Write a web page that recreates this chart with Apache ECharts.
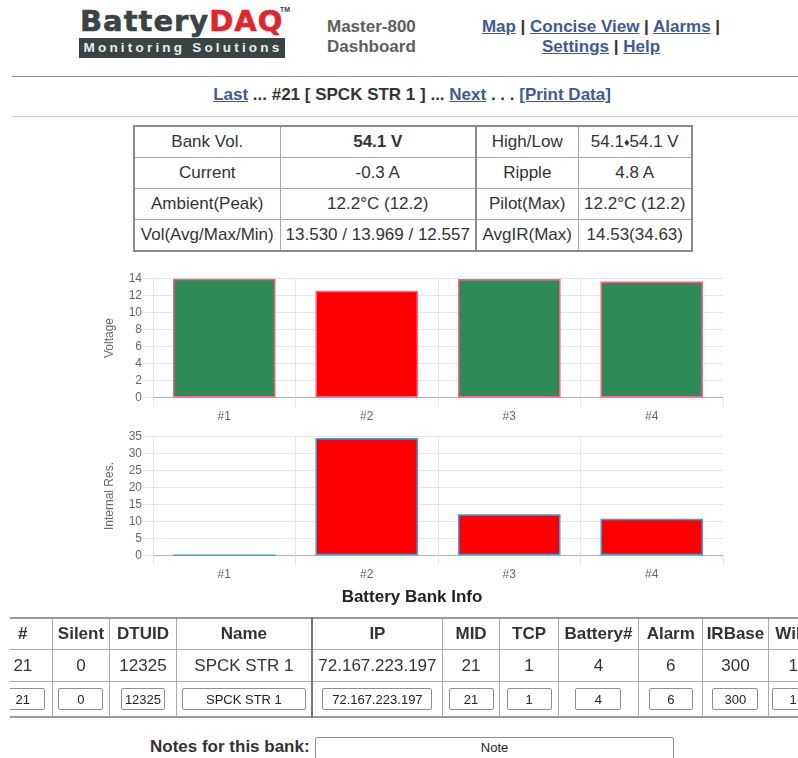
<!DOCTYPE html>
<html><head><meta charset="utf-8">
<script src="https://cdn.jsdelivr.net/npm/echarts@6/dist/echarts.min.js"></script>
<style>
html,body{margin:0;padding:0;background:#fff;}
body{width:798px;height:758px;overflow:hidden;position:relative;font-family:"Liberation Sans",Arial,sans-serif;color:#333;}
.abs{position:absolute;}
a{color:#3d5a98;text-decoration:underline;}
#logo1{left:80px;top:3px;font-family:"DejaVu Sans",sans-serif;font-weight:bold;font-size:29px;letter-spacing:1px;line-height:36px;white-space:nowrap;-webkit-text-stroke:0.6px;}
#logo1 .b{color:#3a4443;}
#logo1 .d{color:#e5232a;}
#tm{left:280px;top:6px;font-size:7px;font-weight:bold;color:#3a4443;}
#logo2{left:79px;top:38px;width:206px;height:20px;background:#3a4443;color:#eceeee;font-weight:bold;font-size:13.5px;line-height:20px;text-align:center;letter-spacing:3.2px;white-space:nowrap;text-indent:2px;}
#master{left:327px;top:17px;font-size:17px;font-weight:bold;color:#5e5e5e;line-height:20px;}
#links{left:451px;top:17px;width:300px;text-align:center;font-size:17px;font-weight:bold;line-height:20px;color:#333;}
.rule{left:12px;width:786px;height:0;}
#nav{left:0;width:824px;top:85px;text-align:center;font-size:17px;font-weight:bold;line-height:20px;color:#333;}
#summary{left:133px;top:125px;border-collapse:collapse;table-layout:fixed;width:558px;border:2px solid #8a8a8a;font-size:17px;}
#summary td{border:1px solid #a8a8a8;text-align:center;height:30px;padding:0;white-space:nowrap;color:#333;}
#summary td.sep{border-left:2px solid #8a8a8a;}
#chart{left:0;top:260px;width:798px;height:330px;}
#title{left:0;width:824px;top:587px;text-align:center;font-size:17px;font-weight:bold;color:#222;line-height:20px;}
#wrap{left:10px;top:617px;width:788px;height:104px;overflow:hidden;}
#info{position:absolute;left:-17px;top:0;border-collapse:collapse;table-layout:fixed;width:825px;font-size:17px;border-top:2px solid #999;border-bottom:2px solid #999;}
#info td,#info th{border:1px solid #aaa;text-align:center;padding:0;white-space:nowrap;color:#333;overflow:hidden;}
#info th{height:30px;font-weight:bold;}
#info tr.d td{height:31px;}
#info tr.i td{height:34px;}
#info .sep{border-left:2px solid #777;}
#info input,#notebox{font-family:"Liberation Sans",Arial,sans-serif;font-size:13px;color:#222;text-align:center;border:1px solid #8f8f8f;border-radius:2px;height:22px;padding:0;box-sizing:border-box;background:#fff;}
#notelabel{left:150px;top:737px;font-size:17px;font-weight:bold;color:#333;line-height:20px;}
#notebox{position:absolute;left:315px;top:737px;width:359px;height:24px;padding-bottom:4px;}
</style>
</head><body>
<div id="logo1" class="abs"><span class="b">Battery</span><span class="d">DAQ</span></div>
<div id="tm" class="abs">TM</div>
<div id="logo2" class="abs">Monitoring Solutions</div>
<div id="master" class="abs">Master-800<br>Dashboard</div>
<div id="links" class="abs"><a>Map</a> | <a>Concise View</a> | <a>Alarms</a> |<br><a>Settings</a> | <a>Help</a></div>
<div class="abs rule" style="top:76px;border-top:1px solid #8c8c8c;"></div>
<div id="nav" class="abs"><a>Last</a> ... #21 [ SPCK STR 1 ] ... <a>Next</a> . . . <a>[Print Data]</a></div>
<div class="abs rule" style="top:116px;border-top:1px solid #c8c8c8;"></div>

<table id="summary" class="abs">
<colgroup><col style="width:146px"><col style="width:196px"><col style="width:102px"><col style="width:114px"></colgroup>
<tr><td>Bank Vol.</td><td><b>54.1 V</b></td><td class="sep">High/Low</td><td>54.1<span style="font-size:11px;vertical-align:1px">♦</span>54.1 V</td></tr>
<tr><td>Current</td><td>-0.3 A</td><td class="sep">Ripple</td><td>4.8 A</td></tr>
<tr><td>Ambient(Peak)</td><td>12.2°C (12.2)</td><td class="sep">Pilot(Max)</td><td>12.2°C (12.2)</td></tr>
<tr><td>Vol(Avg/Max/Min)</td><td>13.530 / 13.969 / 12.557</td><td class="sep">AvgIR(Max)</td><td>14.53(34.63)</td></tr>
</table>

<div id="chart" class="abs"></div>
<div id="title" class="abs">Battery Bank Info</div>

<div id="wrap" class="abs">
<table id="info">
<colgroup><col style="width:58.7px"><col style="width:57.6px"><col style="width:66.4px"><col style="width:136px"><col style="width:130px"><col style="width:57.8px"><col style="width:58.2px"><col style="width:80.6px"><col style="width:64px"><col style="width:65.4px"><col style="width:50px"></colgroup>
<tr><th>#</th><th>Silent</th><th>DTUID</th><th>Name</th><th class="sep">IP</th><th>MID</th><th>TCP</th><th>Battery#</th><th>Alarm</th><th>IRBase</th><th>WiFi</th></tr>
<tr class="d"><td>21</td><td>0</td><td>12325</td><td>SPCK STR 1</td><td class="sep">72.167.223.197</td><td>21</td><td>1</td><td>4</td><td>6</td><td>300</td><td>1</td></tr>
<tr class="i"><td><input style="width:45px" value="21"></td><td><input style="width:45px" value="0"></td><td><input style="width:44px" value="12325"></td><td><input style="width:124px" value="SPCK STR 1"></td><td class="sep"><input style="width:110px" value="72.167.223.197"></td><td><input style="width:45px" value="21"></td><td><input style="width:45px" value="1"></td><td><input style="width:46px" value="4"></td><td><input style="width:44px" value="6"></td><td><input style="width:46px" value="300"></td><td><input style="width:42px" value="1"></td></tr>
</table>
</div>

<div id="notelabel" class="abs">Notes for this bank:</div>
<input id="notebox" value="Note">

<script>
const categories = ['#1', '#2', '#3', '#4'];
const voltage = [13.969, 12.557, 13.95, 13.644];
const voltageAlarm = [false, true, false, false];
const internalRes = [0, 34.63, 12.1, 10.8];
const voltageTicks = [0, 2, 4, 6, 8, 10, 12, 14];
const irTicks = [0, 5, 10, 15, 20, 25, 30, 35];

const FONT = '"Liberation Sans", Arial, sans-serif';
const GRID = '#e6e6e6';
const GREEN = '#2e8b57';
const RED = '#ff0000';

function xAxisFor(i) {
  return {
    type: 'category', gridIndex: i, data: categories, boundaryGap: true,
    axisLine: { show: true, lineStyle: { color: '#b0b0b0', width: 1 } },
    axisTick: { show: true, length: 10, lineStyle: { color: GRID } },
    axisLabel: { color: '#666', fontSize: 12, fontFamily: FONT, margin: 13 },
    splitLine: { show: true, showMaxLine: false, lineStyle: { color: GRID } }
  };
}
function yAxisFor(i, name, ticks) {
  return {
    type: 'value', gridIndex: i, name: name, nameLocation: 'middle', nameRotate: 90, nameGap: 37,
    nameTextStyle: { color: '#666', fontSize: 12, fontFamily: FONT },
    min: ticks[0], max: ticks[ticks.length - 1], interval: ticks[1] - ticks[0],
    axisLine: { show: false },
    axisTick: { show: true, length: 10, lineStyle: { color: GRID } },
    axisLabel: { color: '#666', fontSize: 12, fontFamily: FONT, margin: 11 },
    splitLine: { show: true, lineStyle: { color: GRID } }
  };
}

const chart = echarts.init(document.getElementById('chart'), null, { renderer: 'canvas' });
chart.setOption({
  animation: false,
  textStyle: { fontFamily: FONT },
  grid: [
    { left: 153, width: 570, top: 18.5, height: 119 },
    { left: 153, width: 570, top: 176.7, height: 118.6 }
  ],
  xAxis: [xAxisFor(0), xAxisFor(1)],
  yAxis: [yAxisFor(0, 'Voltage', voltageTicks), yAxisFor(1, 'Internal Res.', irTicks)],
  series: [
    {
      type: 'bar', xAxisIndex: 0, yAxisIndex: 0, barWidth: '72%',
      data: voltage.map((v, i) => ({ value: v, itemStyle: { color: voltageAlarm[i] ? RED : GREEN } })),
      itemStyle: { borderColor: 'rgba(255,99,132,1)', borderWidth: 1.5 }
    },
    {
      type: 'bar', xAxisIndex: 1, yAxisIndex: 1, barWidth: '72%',
      data: internalRes,
      itemStyle: { color: RED, borderColor: 'rgba(54,162,235,1)', borderWidth: 1.5 }
    }
  ]
});
</script>
</body></html>
